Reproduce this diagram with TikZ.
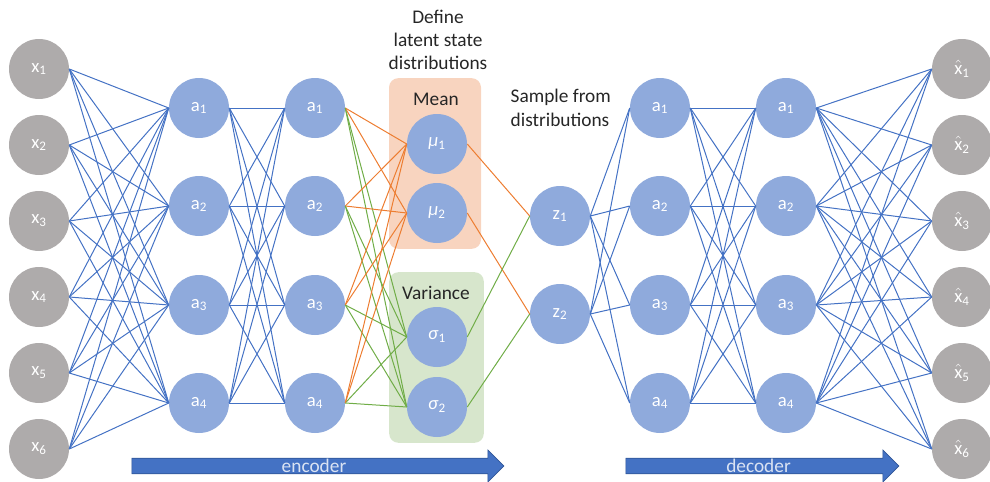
\documentclass[tikz,border=0pt]{standalone}
\usepackage{fontspec}
\setmainfont{Carlito}
\usepackage{tikz}
\usetikzlibrary{shapes.arrows}

\definecolor{nodeblue}{HTML}{8FAADC}
\definecolor{nodegray}{HTML}{AEABAB}
\definecolor{linkblue}{HTML}{4472C4}
\definecolor{linkorange}{HTML}{ED7D31}
\definecolor{linkgreen}{HTML}{70AD47}
\definecolor{meanfill}{HTML}{F8D4BF}
\definecolor{varfill}{HTML}{D7E6CC}
\definecolor{arrowedge}{HTML}{2F5597}
\definecolor{arrowtext}{HTML}{DAE3F3}

\newcommand{\xhat}{$\hat{\mbox{x}}$}

\begin{document}
\begin{tikzpicture}[
  x=0.75pt, y=-0.75pt,
  unit/.style={circle, fill=nodeblue, minimum size=45pt, inner sep=0pt,
               text=white, font=\fontsize{14}{16}\selectfont},
  inunit/.style={unit, fill=nodegray},
  groupbox/.style={rectangle, rounded corners=7pt, minimum width=69pt,
               minimum height=128pt, inner sep=0pt},
  caption/.style={align=center, font=\fontsize{14.5}{17.5}\selectfont, text=black!85},
  bigarrow/.style={single arrow, fill=linkblue, draw=arrowedge, line width=0.5pt,
               minimum height=279pt, minimum width=24pt, single arrow head extend=5.6pt,
               inner sep=0pt, text=arrowtext, font=\fontsize{14.5}{17}\selectfont},
  wblue/.style={draw=linkblue, line width=0.75pt},
  worange/.style={draw=linkorange, line width=0.75pt},
  wgreen/.style={draw=linkgreen, line width=0.75pt}
]
\useasboundingbox (0,0) rectangle (990,482);

% latent groups
\node[groupbox, fill=meanfill] (meanbox) at (435,163.5) {};
\node[groupbox, fill=varfill, minimum width=71pt] (varbox) at (436.5,357.5) {};
\node[caption] (meanlbl) at (436,99) {Mean};
\node[caption] (varlbl) at (436,293) {Variance};
\node[caption] (define) at (438,40) {Define\\latent state\\distributions};
\node[caption, align=left, anchor=west] (sample) at (506,108) {Sample from\\distributions};

% units
\foreach \i/\y in {1/69,2/145,3/221,4/297,5/373,6/449} {
  \node[inunit] (x\i) at (39,\y) {x\textsubscript{\i}};
  \node[inunit] (xh\i) at (962,\y) {\xhat\textsubscript{\i}};
}
\foreach \i/\y in {1/108,2/206,3/305,4/403} {
  \node[unit] (ea\i) at (199,\y) {a\textsubscript{\i}};
  \node[unit] (eb\i) at (315,\y) {a\textsubscript{\i}};
  \node[unit] (da\i) at (660,\y) {a\textsubscript{\i}};
  \node[unit] (db\i) at (786,\y) {a\textsubscript{\i}};
}
\node[unit] (mu1) at (437,144) {\textit{μ}\textsubscript{1}};
\node[unit] (mu2) at (437,213) {\textit{μ}\textsubscript{2}};
\node[unit] (sg1) at (437,337) {\textit{σ}\textsubscript{1}};
\node[unit] (sg2) at (437,407) {\textit{σ}\textsubscript{2}};
\node[unit] (z1) at (560,216) {z\textsubscript{1}};
\node[unit] (z2) at (560,314) {z\textsubscript{2}};

% encoder / decoder links
\foreach \i in {1,...,6}
  \foreach \j in {1,...,4} {
    \draw[wblue] (x\i.east) -- (ea\j.west);
    \draw[wblue] (db\j.east) -- (xh\i.west);
  }
\foreach \i in {1,...,4}
  \foreach \j in {1,...,4} {
    \draw[wblue] (ea\i.east) -- (eb\j.west);
    \draw[wblue] (da\i.east) -- (db\j.west);
  }
\foreach \i in {1,...,4}
  \foreach \j in {1,2} {
    \draw[worange] (eb\i.east) -- (mu\j.west);
    \draw[wgreen] (eb\i.east) -- (sg\j.west);
    \draw[wblue] (z\j.east) -- (da\i.west);
  }
\draw[worange] (mu1.east) -- (z1.west);
\draw[worange] (mu2.east) -- (z2.west);
\draw[wgreen] (sg1.east) -- (z1.west);
\draw[wgreen] (sg2.east) -- (z2.west);

% direction arrows
\node[bigarrow] (enc) at (314,466) {encoder};
\node[bigarrow, minimum height=204.75pt] (dec) at (758.5,466) {decoder};
\end{tikzpicture}
\end{document}
